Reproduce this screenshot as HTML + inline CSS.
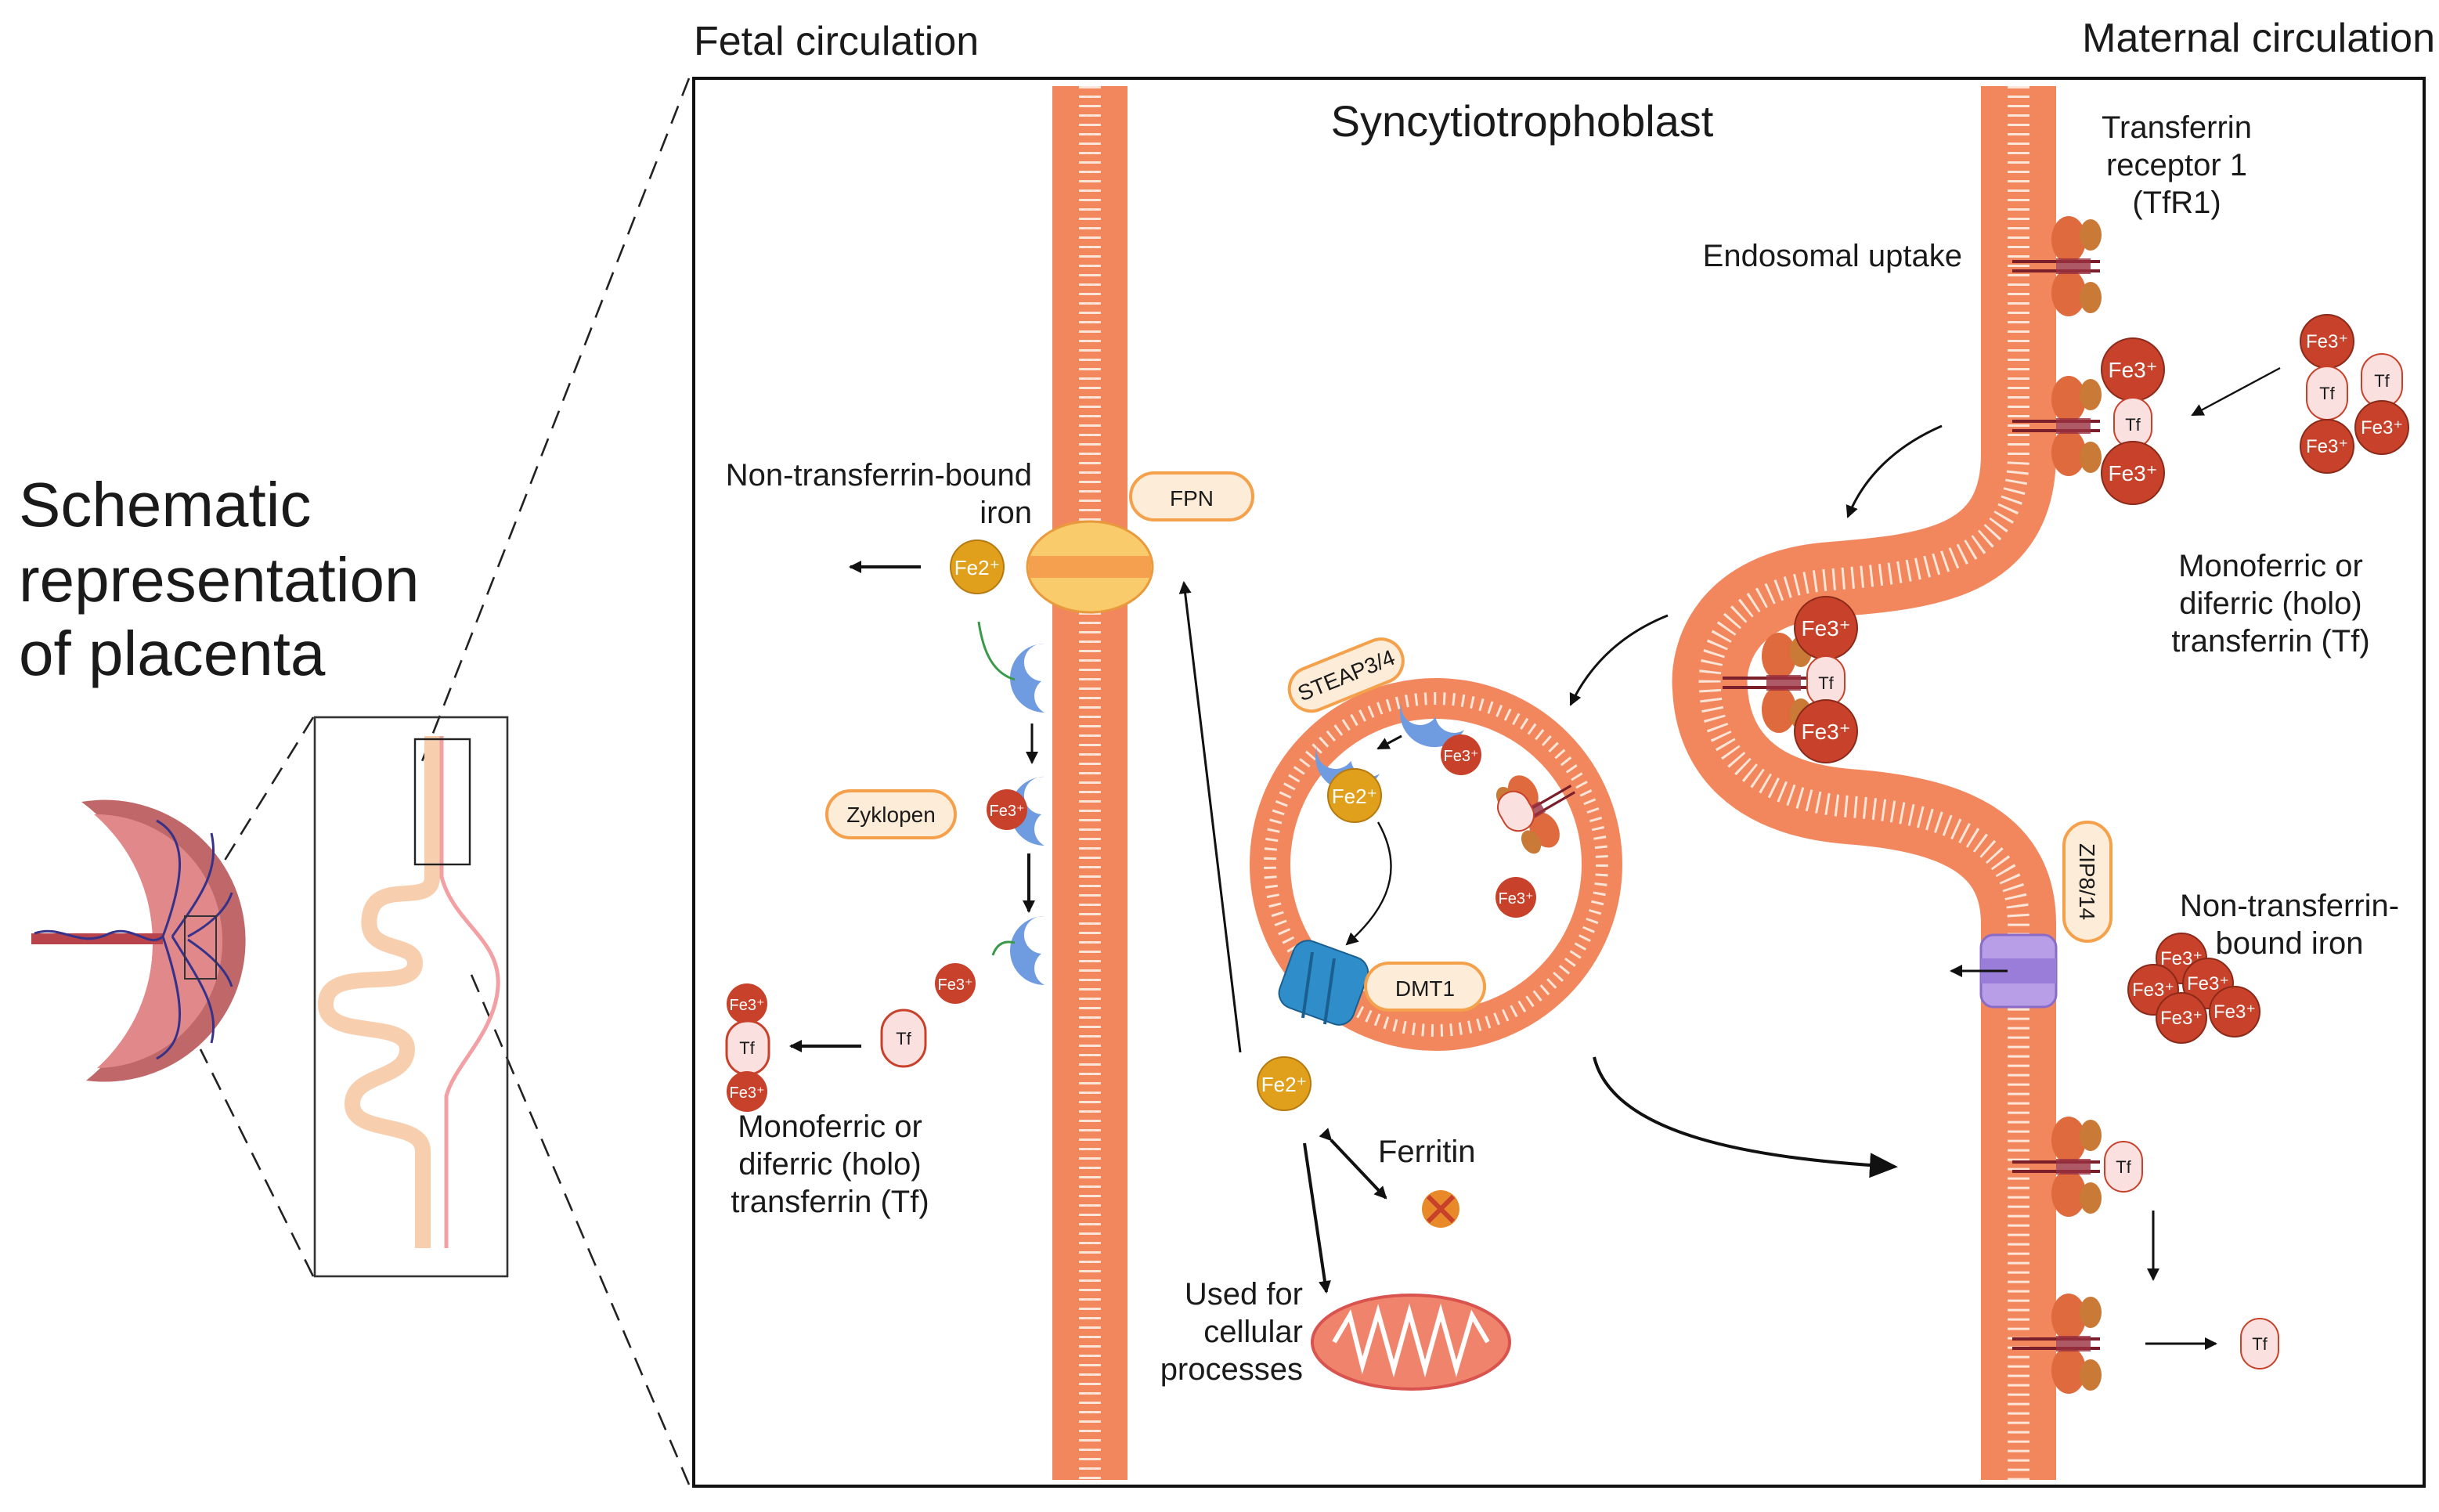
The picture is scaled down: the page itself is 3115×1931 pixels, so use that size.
<!DOCTYPE html>
<html><head><meta charset="utf-8"><style>
html,body{margin:0;padding:0;background:#fff}
svg{display:block}
text{font-family:"Liberation Sans",sans-serif;fill:#1a1a1a}
</style></head><body>
<svg width="3115" height="1931" viewBox="0 0 1557.5 965.5" xmlns="http://www.w3.org/2000/svg">
<defs>
<marker id="ah" markerWidth="8" markerHeight="8" refX="7" refY="4" orient="auto" markerUnits="userSpaceOnUse"><path d="M0,0 L8,4 L0,8 Z" fill="#111"/></marker>
<marker id="ahb" markerWidth="18" markerHeight="16" refX="16" refY="8" orient="auto" markerUnits="userSpaceOnUse"><path d="M0,0 L18,8 L0,16 Z" fill="#111"/></marker>
<g id="rec">
<ellipse cx="8" cy="-17" rx="11" ry="15" fill="#de6a3e"/>
<ellipse cx="8" cy="17" rx="11" ry="15" fill="#de6a3e"/>
<ellipse cx="22" cy="-20" rx="7" ry="10" fill="#c97a36"/>
<ellipse cx="22" cy="20" rx="7" ry="10" fill="#c97a36"/>
<rect x="-28" y="-4" width="56" height="2" fill="#7a1f2a"/>
<rect x="-28" y="2" width="56" height="2" fill="#7a1f2a"/>
<rect x="0" y="-5" width="22" height="10" fill="#9a3040" opacity="0.8"/>
</g>
<g id="blue"><path d="M-8,-22 A22,22 0 1 1 -8,22 A12,12 0 0 0 -6,2 A10,10 0 0 0 -8,-22 Z" fill="#6f9be0" transform="scale(-1,1)"/></g>
</defs>

<text x="443" y="35" font-size="26">Fetal circulation</text>
<text x="1555" y="33" font-size="26" text-anchor="end">Maternal circulation</text>
<text x="12" y="336" font-size="40">Schematic</text>
<text x="12" y="384" font-size="40">representation</text>
<text x="12" y="431" font-size="40">of placenta</text>

<rect x="443" y="50" width="1105" height="899" fill="none" stroke="#111" stroke-width="2"/>

<g stroke="#222" stroke-width="1.3" stroke-dasharray="12 7" fill="none">
<line x1="440" y1="50" x2="268" y2="490"/>
<line x1="440" y1="948" x2="300" y2="620"/>
<line x1="200" y1="458" x2="140" y2="555"/>
<line x1="200" y1="815" x2="128" y2="670"/>
</g>

<!-- placenta -->
<path d="M52,512 A90,90 0 1 1 55,690 A112,112 0 0 0 52,512 Z" fill="#c0676a"/>
<path d="M60,520 A81,81 0 1 1 62,682 A108,108 0 0 0 60,520 Z" fill="#e0888a"/>
<path d="M20,596 L104,596 L104,603 L20,603 Z" fill="#b8434a"/>
<g stroke="#36328a" stroke-width="1.5" fill="none">
<path d="M22,596 C40,590 50,606 70,596 C85,590 95,606 104,598"/>
<path d="M104,598 C118,560 120,535 100,524 M104,598 C118,640 120,665 100,676 M110,598 C130,570 140,555 135,532 M110,598 C130,630 140,645 135,666 M120,598 C135,590 145,580 148,570 M120,600 C135,610 145,620 148,630"/>
</g>
<rect x="118" y="585" width="20" height="40" fill="none" stroke="#333" stroke-width="1"/>

<rect x="201" y="458" width="123" height="357" fill="none" stroke="#333" stroke-width="1.3"/>
<path d="M276,470 V560 C276,580 240,560 236,585 C232,610 265,600 265,615 C265,635 210,615 208,640 C206,665 260,650 260,670 C260,690 225,685 225,705 C225,725 270,715 270,735 V797" fill="none" stroke="#f7cfae" stroke-width="10"/>
<path d="M282,470 V560 C290,590 320,600 318,630 C316,660 290,680 285,700 V797" fill="none" stroke="#f2a0a4" stroke-width="2.5"/>
<rect x="265" y="472" width="35" height="80" fill="none" stroke="#222" stroke-width="1.2"/>

<g fill="none">
<path d="M696,55 V945" stroke="#f2875e" stroke-width="48"/>
<path d="M696,55 V945" stroke="#fde5d8" stroke-width="14" stroke-dasharray="1.5 4.5"/>
<path d="M1289,55 V290 C1289,360 1230,365 1170,370 C1100,375 1090,420 1092,440 C1094,480 1120,510 1180,515 C1250,520 1289,540 1289,590 V945" stroke="#f2875e" stroke-width="48"/>
<path d="M1289,55 V290 C1289,360 1230,365 1170,370 C1100,375 1090,420 1092,440 C1094,480 1120,510 1180,515 C1250,520 1289,540 1289,590 V945" stroke="#fde5d8" stroke-width="14" stroke-dasharray="1.5 4.5"/>
<circle cx="917" cy="552" r="106" stroke="#f2875e" stroke-width="26"/>
<circle cx="917" cy="552" r="106" stroke="#fde5d8" stroke-width="8" stroke-dasharray="1.5 4.5"/>
</g>

<text x="972" y="87" font-size="28" text-anchor="middle">Syncytiotrophoblast</text>

<text x="659" y="310" font-size="20" text-anchor="end">Non-transferrin-bound</text>
<text x="659" y="334" font-size="20" text-anchor="end">iron</text>
<rect x="722" y="302" width="78" height="30" rx="15" fill="#fdecd8" stroke="#f5a04a" stroke-width="2"/>
<text x="761" y="323" font-size="14" text-anchor="middle">FPN</text>
<ellipse cx="696" cy="362" rx="40" ry="29" fill="#f9cb6b" stroke="#e89a3c" stroke-width="1.5"/>
<rect x="657" y="355" width="78" height="14" fill="#f4a04e"/>
<circle cx="624" cy="362" r="17" fill="#e0a01c" stroke="#b57a10"/>
<text x="624" y="367" font-size="13" text-anchor="middle" style="fill:#fff">Fe2⁺</text>
<line x1="588" y1="362" x2="543" y2="362" stroke="#111" stroke-width="2" marker-end="url(#ah)"/>

<use href="#blue" x="659" y="433"/>
<use href="#blue" x="659" y="518"/>
<use href="#blue" x="659" y="607"/>
<path d="M625,397 C628,418 635,430 648,434" stroke="#3a9a4a" stroke-width="1.5" fill="none"/>
<line x1="659" y1="462" x2="659" y2="487" stroke="#111" stroke-width="1.5" marker-end="url(#ah)"/>
<line x1="657" y1="545" x2="657" y2="582" stroke="#111" stroke-width="2" marker-end="url(#ah)"/>
<rect x="528" y="505" width="82" height="30" rx="15" fill="#fdecd8" stroke="#f5a04a" stroke-width="2"/>
<text x="569" y="525" font-size="14" text-anchor="middle">Zyklopen</text>
<circle cx="643" cy="517" r="13" fill="#c8412a"/><text x="643" y="521" font-size="10" text-anchor="middle" style="fill:#fff">Fe3⁺</text>
<circle cx="610" cy="628" r="13" fill="#c8412a"/><text x="610" y="632" font-size="10" text-anchor="middle" style="fill:#fff">Fe3⁺</text>
<path d="M648,602 C640,600 636,604 634,610" stroke="#3a9a4a" stroke-width="1.5" fill="none"/>
<rect x="563" y="645" width="28" height="36" rx="14" fill="#fbe0e0" stroke="#c8412a" stroke-width="1.5"/>
<text x="577" y="667" font-size="11" text-anchor="middle">Tf</text>
<line x1="550" y1="668" x2="505" y2="668" stroke="#111" stroke-width="2" marker-end="url(#ah)"/>
<circle cx="477" cy="641" r="13" fill="#c8412a"/><text x="477" y="645" font-size="10" text-anchor="middle" style="fill:#fff">Fe3⁺</text>
<rect x="464" y="652" width="27" height="34" rx="13" fill="#fbe0e0" stroke="#c8412a" stroke-width="1.5"/>
<text x="477" y="673" font-size="11" text-anchor="middle">Tf</text>
<circle cx="477" cy="697" r="13" fill="#c8412a"/><text x="477" y="701" font-size="10" text-anchor="middle" style="fill:#fff">Fe3⁺</text>
<text x="530" y="726" font-size="20" text-anchor="middle">Monoferric or</text>
<text x="530" y="750" font-size="20" text-anchor="middle">diferric (holo)</text>
<text x="530" y="774" font-size="20" text-anchor="middle">transferrin (Tf)</text>

<line x1="792" y1="672" x2="756" y2="372" stroke="#111" stroke-width="1.5" marker-end="url(#ah)"/>
<circle cx="820" cy="692" r="17" fill="#e0a01c" stroke="#b57a10"/>
<text x="820" y="697" font-size="13" text-anchor="middle" style="fill:#fff">Fe2⁺</text>
<line x1="833" y1="730" x2="847" y2="825" stroke="#111" stroke-width="2" marker-end="url(#ah)"/>
<line x1="850" y1="728" x2="885" y2="765" stroke="#111" stroke-width="2" marker-end="url(#ah)" marker-start="url(#ah)"/>
<text x="880" y="742" font-size="20">Ferritin</text>
<circle cx="920" cy="772" r="12" fill="#e88a2a"/>
<path d="M912,764 L928,780 M928,764 L912,780" stroke="#c8412a" stroke-width="3"/>
<ellipse cx="901" cy="857" rx="63" ry="30" fill="#f0836c" stroke="#d9534f" stroke-width="2"/>
<path d="M852,857 L862,840 L870,872 L880,838 L890,874 L900,838 L910,874 L920,838 L930,874 L940,840 L950,857" stroke="#fff" stroke-width="3" fill="none"/>
<text x="832" y="833" font-size="20" text-anchor="end">Used for</text>
<text x="832" y="857" font-size="20" text-anchor="end">cellular</text>
<text x="832" y="881" font-size="20" text-anchor="end">processes</text>

<g transform="rotate(-22 860 432)">
<rect x="822" y="417" width="76" height="28" rx="14" fill="#fdecd8" stroke="#f5a04a" stroke-width="2"/>
<text x="860" y="436" font-size="14" text-anchor="middle">STEAP3/4</text>
</g>
<use href="#blue" x="858" y="490" transform="rotate(-60 858 490)"/>
<use href="#blue" x="912" y="462" transform="rotate(-60 912 462)"/>
<line x1="895" y1="470" x2="880" y2="478" stroke="#111" stroke-width="1.5" marker-end="url(#ah)"/>
<circle cx="933" cy="482" r="13" fill="#c8412a"/><text x="933" y="486" font-size="10" text-anchor="middle" style="fill:#fff">Fe3⁺</text>
<circle cx="865" cy="508" r="17" fill="#e0a01c" stroke="#b57a10"/>
<text x="865" y="513" font-size="13" text-anchor="middle" style="fill:#fff">Fe2⁺</text>
<path d="M880,525 C900,560 880,585 860,603" stroke="#111" stroke-width="1.2" fill="none" marker-end="url(#ah)"/>
<circle cx="968" cy="573" r="13" fill="#c8412a"/><text x="968" y="577" font-size="10" text-anchor="middle" style="fill:#fff">Fe3⁺</text>
<use href="#rec" transform="translate(985 515) rotate(150) scale(0.8)"/>
<rect x="958" y="505" width="20" height="26" rx="10" fill="#fbe0e0" stroke="#c8412a" transform="rotate(-30 968 518)"/>
<rect x="820" y="605" width="50" height="45" rx="10" fill="#2f8ec9" stroke="#1a5f8f" transform="rotate(20 845 628)"/>
<line x1="838" y1="608" x2="832" y2="650" stroke="#1a5f8f" stroke-width="2"/>
<line x1="852" y1="612" x2="846" y2="654" stroke="#1a5f8f" stroke-width="2"/>
<rect x="872" y="615" width="76" height="30" rx="15" fill="#fdecd8" stroke="#f5a04a" stroke-width="2"/>
<text x="910" y="636" font-size="14" text-anchor="middle">DMT1</text>

<path d="M1240,272 C1210,285 1190,305 1180,330" stroke="#111" stroke-width="1.5" fill="none" marker-end="url(#ah)"/>
<path d="M1065,393 C1035,405 1015,425 1003,450" stroke="#111" stroke-width="1.5" fill="none" marker-end="url(#ah)"/>
<path d="M1018,675 C1030,725 1120,740 1210,745" stroke="#111" stroke-width="2" fill="none" marker-end="url(#ahb)"/>

<use href="#rec" transform="translate(1313 170)"/>
<use href="#rec" transform="translate(1313 272)"/>
<use href="#rec" transform="translate(1128 436)"/>
<use href="#rec" transform="translate(1313 745)"/>
<use href="#rec" transform="translate(1313 858)"/>

<text x="1390" y="88" font-size="20" text-anchor="middle">Transferrin</text>
<text x="1390" y="112" font-size="20" text-anchor="middle">receptor 1</text>
<text x="1390" y="136" font-size="20" text-anchor="middle">(TfR1)</text>
<text x="1253" y="170" font-size="20" text-anchor="end">Endosomal uptake</text>

<g font-size="14">
<circle cx="1362" cy="236" r="20" fill="#c8412a" stroke="#8c2a1a"/><text x="1362" y="241" text-anchor="middle" style="fill:#fff">Fe3⁺</text>
<rect x="1350" y="254" width="24" height="32" rx="12" fill="#fbe0e0" stroke="#c8412a"/><text x="1362" y="275" font-size="11" text-anchor="middle">Tf</text>
<circle cx="1362" cy="302" r="20" fill="#c8412a" stroke="#8c2a1a"/><text x="1362" y="307" text-anchor="middle" style="fill:#fff">Fe3⁺</text>
<circle cx="1166" cy="401" r="20" fill="#c8412a" stroke="#8c2a1a"/><text x="1166" y="406" text-anchor="middle" style="fill:#fff">Fe3⁺</text>
<rect x="1154" y="419" width="24" height="32" rx="12" fill="#fbe0e0" stroke="#c8412a"/><text x="1166" y="440" font-size="11" text-anchor="middle">Tf</text>
<circle cx="1166" cy="467" r="20" fill="#c8412a" stroke="#8c2a1a"/><text x="1166" y="472" text-anchor="middle" style="fill:#fff">Fe3⁺</text>
</g>
<g font-size="12">
<circle cx="1486" cy="218" r="17" fill="#c8412a" stroke="#8c2a1a"/><text x="1486" y="222" text-anchor="middle" style="fill:#fff">Fe3⁺</text>
<rect x="1473" y="234" width="26" height="34" rx="13" fill="#fbe0e0" stroke="#c8412a"/><text x="1486" y="255" font-size="11" text-anchor="middle">Tf</text>
<circle cx="1486" cy="285" r="17" fill="#c8412a" stroke="#8c2a1a"/><text x="1486" y="289" text-anchor="middle" style="fill:#fff">Fe3⁺</text>
<rect x="1508" y="226" width="26" height="34" rx="13" fill="#fbe0e0" stroke="#c8412a"/><text x="1521" y="247" font-size="11" text-anchor="middle">Tf</text>
<circle cx="1521" cy="273" r="17" fill="#c8412a" stroke="#8c2a1a"/><text x="1521" y="277" text-anchor="middle" style="fill:#fff">Fe3⁺</text>
</g>
<line x1="1456" y1="235" x2="1400" y2="265" stroke="#111" stroke-width="1.2" marker-end="url(#ah)"/>
<text x="1450" y="368" font-size="20" text-anchor="middle">Monoferric or</text>
<text x="1450" y="392" font-size="20" text-anchor="middle">diferric (holo)</text>
<text x="1450" y="416" font-size="20" text-anchor="middle">transferrin (Tf)</text>

<rect x="1318" y="525" width="30" height="76" rx="15" fill="#fdecd8" stroke="#f5a04a" stroke-width="2"/>
<text transform="translate(1328 563) rotate(90)" font-size="14" text-anchor="middle">ZIP8/14</text>
<rect x="1265" y="597" width="48" height="46" rx="8" fill="#b79ee6" stroke="#8a6cc8" stroke-width="1.5"/>
<rect x="1265" y="612" width="48" height="16" fill="#9a7dd8"/>
<line x1="1282" y1="620" x2="1246" y2="620" stroke="#111" stroke-width="1.5" marker-end="url(#ah)"/>
<text x="1462" y="585" font-size="20" text-anchor="middle">Non-transferrin-</text>
<text x="1462" y="609" font-size="20" text-anchor="middle">bound iron</text>
<g font-size="12">
<circle cx="1393" cy="612" r="16" fill="#c8412a" stroke="#8c2a1a"/><text x="1393" y="616" text-anchor="middle" style="fill:#fff">Fe3⁺</text>
<circle cx="1375" cy="632" r="16" fill="#c8412a" stroke="#8c2a1a"/><text x="1375" y="636" text-anchor="middle" style="fill:#fff">Fe3⁺</text>
<circle cx="1410" cy="628" r="16" fill="#c8412a" stroke="#8c2a1a"/><text x="1410" y="632" text-anchor="middle" style="fill:#fff">Fe3⁺</text>
<circle cx="1393" cy="650" r="16" fill="#c8412a" stroke="#8c2a1a"/><text x="1393" y="654" text-anchor="middle" style="fill:#fff">Fe3⁺</text>
<circle cx="1427" cy="646" r="16" fill="#c8412a" stroke="#8c2a1a"/><text x="1427" y="650" text-anchor="middle" style="fill:#fff">Fe3⁺</text>
</g>

<rect x="1344" y="729" width="24" height="32" rx="12" fill="#fbe0e0" stroke="#c8412a"/><text x="1356" y="749" font-size="11" text-anchor="middle">Tf</text>
<line x1="1375" y1="773" x2="1375" y2="817" stroke="#111" stroke-width="1.5" marker-end="url(#ah)"/>
<line x1="1370" y1="858" x2="1415" y2="858" stroke="#111" stroke-width="1.5" marker-end="url(#ah)"/>
<rect x="1431" y="842" width="24" height="32" rx="12" fill="#fbe0e0" stroke="#c8412a"/><text x="1443" y="862" font-size="11" text-anchor="middle">Tf</text>
</svg>
</body></html>
